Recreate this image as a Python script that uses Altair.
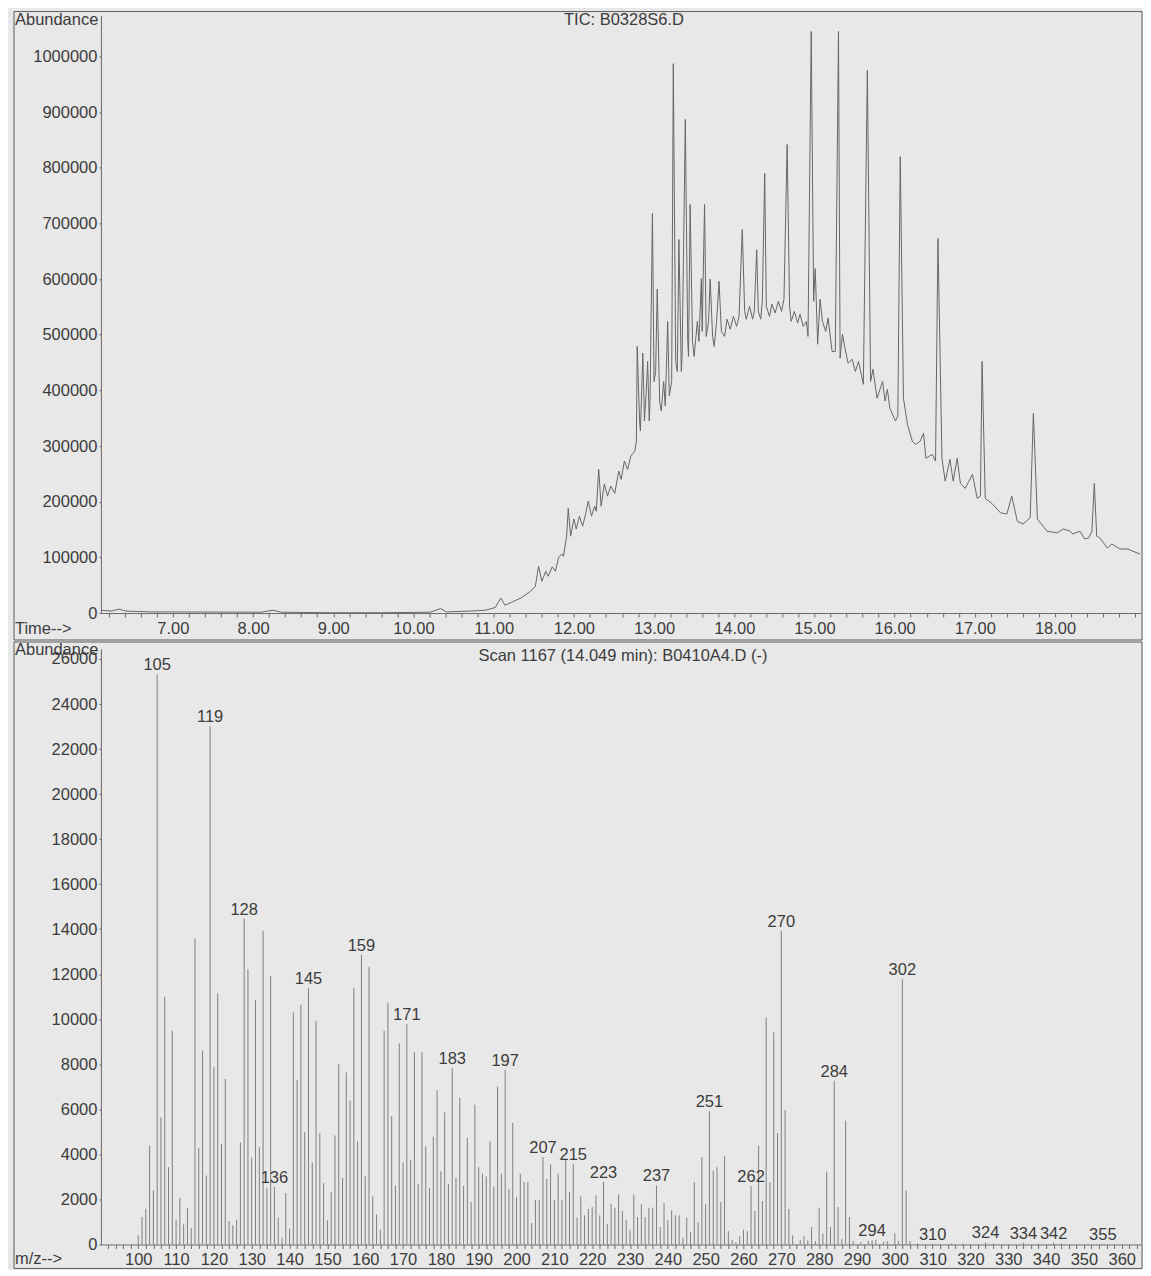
import altair as alt
import pandas as pd

# ---------------- data ----------------
# TIC trace: (retention time [min], abundance)
tic_points = [
    (6.10, 5000), (6.23, 3500), (6.33, 7000), (6.41, 3500), (6.73, 2000), (7.35, 1800),
    (8.10, 1500), (8.25, 5000), (8.35, 1500), (8.97, 500), (9.59, 500), (10.21, 1500),
    (10.34, 8000), (10.41, 2000), (10.71, 3500), (10.90, 5000), (11.02, 10000), (11.09, 27000),
    (11.14, 14000), (11.25, 21000), (11.34, 27000), (11.46, 39000), (11.52, 48000), (11.56, 84000),
    (11.60, 57000), (11.65, 75000), (11.68, 66000), (11.73, 83000), (11.77, 75000), (11.81, 100000),
    (11.85, 106000), (11.87, 102000), (11.91, 138000), (11.93, 188000), (11.96, 138000), (12.00, 169000),
    (12.03, 151000), (12.07, 174000), (12.11, 156000), (12.15, 180000), (12.18, 201000), (12.22, 174000),
    (12.26, 192000), (12.28, 183000), (12.31, 258000), (12.34, 192000), (12.38, 232000), (12.42, 210000),
    (12.46, 228000), (12.51, 215000), (12.56, 255000), (12.59, 240000), (12.63, 273000), (12.67, 258000),
    (12.71, 282000), (12.76, 291000), (12.78, 309000), (12.79, 479000), (12.82, 345000), (12.83, 327000),
    (12.86, 467000), (12.88, 345000), (12.90, 390000), (12.92, 452000), (12.94, 345000), (12.95, 380000),
    (12.98, 718000), (13.00, 416000), (13.02, 434000), (13.04, 582000), (13.07, 380000), (13.09, 363000),
    (13.12, 416000), (13.14, 372000), (13.17, 524000), (13.19, 390000), (13.22, 416000), (13.24, 987000),
    (13.27, 452000), (13.29, 434000), (13.31, 671000), (13.34, 434000), (13.35, 461000), (13.39, 887000),
    (13.42, 488000), (13.43, 461000), (13.45, 734000), (13.48, 488000), (13.50, 461000), (13.54, 524000),
    (13.56, 488000), (13.59, 601000), (13.60, 506000), (13.63, 734000), (13.65, 497000), (13.68, 524000),
    (13.70, 600000), (13.73, 497000), (13.75, 479000), (13.78, 524000), (13.81, 596000), (13.84, 506000),
    (13.88, 497000), (13.91, 528000), (13.95, 510000), (13.99, 533000), (14.03, 515000), (14.06, 533000),
    (14.10, 689000), (14.13, 542000), (14.15, 528000), (14.19, 551000), (14.23, 528000), (14.25, 542000),
    (14.28, 653000), (14.30, 542000), (14.33, 528000), (14.35, 560000), (14.38, 790000), (14.40, 551000),
    (14.44, 533000), (14.47, 555000), (14.51, 539000), (14.55, 560000), (14.59, 542000), (14.62, 564000),
    (14.66, 842000), (14.69, 551000), (14.71, 524000), (14.75, 542000), (14.79, 521000), (14.82, 537000),
    (14.86, 515000), (14.90, 524000), (14.92, 497000), (14.96, 1045000), (14.99, 560000), (15.01, 619000),
    (15.04, 483000), (15.07, 564000), (15.10, 524000), (15.14, 506000), (15.17, 530000), (15.22, 470000),
    (15.26, 470000), (15.30, 1045000), (15.32, 458000), (15.35, 501000), (15.38, 476000), (15.42, 449000),
    (15.47, 456000), (15.51, 434000), (15.55, 452000), (15.61, 411000), (15.66, 975000), (15.70, 416000),
    (15.73, 438000), (15.78, 386000), (15.85, 416000), (15.88, 381000), (15.91, 402000), (15.94, 368000),
    (16.01, 345000), (16.04, 354000), (16.07, 820000), (16.11, 386000), (16.16, 339000), (16.22, 309000),
    (16.26, 303000), (16.32, 309000), (16.36, 323000), (16.39, 278000), (16.47, 285000), (16.51, 273000),
    (16.54, 673000), (16.59, 278000), (16.63, 237000), (16.69, 276000), (16.73, 237000), (16.78, 278000),
    (16.82, 233000), (16.88, 224000), (16.97, 249000), (17.03, 206000), (17.07, 210000), (17.09, 452000),
    (17.13, 206000), (17.22, 196000), (17.32, 180000), (17.40, 178000), (17.46, 210000), (17.53, 165000),
    (17.60, 160000), (17.69, 171000), (17.73, 359000), (17.78, 169000), (17.90, 147000), (18.03, 144000),
    (18.10, 151000), (18.19, 147000), (18.22, 142000), (18.31, 147000), (18.37, 133000), (18.42, 135000),
    (18.46, 147000), (18.49, 233000), (18.52, 138000), (18.56, 135000), (18.65, 117000), (18.71, 124000),
    (18.81, 115000), (18.91, 115000), (18.97, 111000), (19.06, 106000),
]

# Mass spectrum: (m/z, abundance)
ms_points = [
    (100, 400), (101, 1220), (102, 1590), (103, 4390), (104, 2400), (105, 25320), (106, 5650),
    (107, 11000), (108, 3430), (109, 9490), (110, 1100), (111, 2070), (112, 890), (113, 1610),
    (114, 740), (115, 13590), (116, 4290), (117, 8600), (118, 3060), (119, 23020), (120, 7870),
    (121, 11150), (122, 4460), (123, 7350), (124, 1040), (125, 850), (126, 1100), (127, 4530),
    (128, 14460), (129, 12230), (130, 3850), (131, 10850), (132, 4320), (133, 13930), (134, 2500),
    (135, 11930), (136, 2550), (137, 1190), (138, 300), (139, 2280), (140, 700), (141, 10300),
    (142, 7300), (143, 10650), (144, 4980), (145, 11370), (146, 3650), (147, 9940), (148, 4950),
    (149, 2720), (150, 1070), (151, 2320), (152, 4840), (153, 8010), (154, 2950), (155, 7640),
    (156, 6390), (157, 11380), (158, 4580), (159, 12860), (160, 3030), (161, 12330), (162, 2130),
    (163, 1330), (164, 650), (165, 9490), (166, 10750), (167, 5710), (168, 2620), (169, 8930),
    (170, 3650), (171, 9790), (172, 3760), (173, 8530), (174, 2690), (175, 8530), (176, 4360),
    (177, 2520), (178, 4790), (179, 6860), (180, 3250), (181, 5870), (182, 2690), (183, 7840),
    (184, 2960), (185, 6510), (186, 2600), (187, 4730), (188, 1880), (189, 6210), (190, 3430),
    (191, 3140), (192, 3020), (193, 4580), (194, 2580), (195, 7010), (196, 3140), (197, 7750),
    (198, 2470), (199, 5400), (200, 2100), (201, 3140), (202, 2770), (203, 2770), (204, 950),
    (205, 1980), (206, 1980), (207, 3880), (208, 2910), (209, 3550), (210, 1980), (211, 3140),
    (212, 1980), (213, 3760), (214, 2320), (215, 3580), (216, 1190), (217, 2130), (218, 1290),
    (219, 1580), (220, 1660), (221, 2180), (222, 1290), (223, 2770), (224, 920), (225, 1810),
    (226, 1630), (227, 2220), (228, 1480), (229, 1100), (230, 650), (231, 2220), (232, 1220),
    (233, 1780), (234, 1220), (235, 1630), (236, 1630), (237, 2620), (238, 770), (239, 1840),
    (240, 1070), (241, 1510), (242, 1290), (243, 1290), (244, 300), (245, 1190), (246, 550),
    (247, 2770), (248, 990), (249, 3880), (250, 1780), (251, 5920), (252, 3280), (253, 3430),
    (254, 1880), (255, 3920), (256, 590), (257, 200), (258, 100), (259, 360), (260, 650),
    (261, 590), (262, 2590), (263, 1480), (264, 4390), (265, 1930), (266, 10080), (267, 2770),
    (268, 9420), (269, 4950), (270, 13930), (271, 5970), (272, 1580), (273, 400), (275, 200),
    (276, 360), (277, 180), (278, 770), (279, 150), (280, 1630), (281, 480), (282, 3240),
    (283, 770), (284, 7270), (285, 1660), (286, 250), (287, 5500), (288, 1220), (289, 150),
    (291, 100), (293, 150), (294, 180), (295, 200), (297, 120), (298, 150), (300, 500),
    (301, 150), (302, 11780), (303, 2400), (304, 150), (306, 60), (310, 30), (315, 50),
    (318, 40), (324, 100), (326, 50), (334, 80), (338, 40), (342, 80), (344, 50), (355, 15),
]

label_mz = [105, 119, 128, 136, 145, 159, 171, 183, 197, 207, 215, 223, 237, 251,
            262, 270, 284, 294, 302, 310, 324, 334, 342, 355]

tic_y_ticks = [0, 100000, 200000, 300000, 400000, 500000, 600000, 700000, 800000, 900000, 1000000]
ms_y_ticks = [0, 2000, 4000, 6000, 8000, 10000, 12000, 14000, 16000, 18000, 20000, 22000, 24000, 26000]
tic_x_ticks = [round(6.2 + 0.2 * i, 1) for i in range(65)]
ms_x_ticks = list(range(92, 366, 2))

tic_title = "TIC: B0328S6.D"
ms_title = "Scan 1167 (14.049 min): B0410A4.D (-)"

# ---------------- styling ----------------
W = 1041
H1 = 598
H2 = 596
FS = 16.5
FONT = "Liberation Sans"
BG = "#e8e8e8"
TXT = "#3c3c3c"
AXC = "#6a6a6a"

tic_df = pd.DataFrame(tic_points, columns=["t", "a"])
ms_df = pd.DataFrame(ms_points, columns=["mz", "a"])
lab_df = ms_df[ms_df["mz"].isin(label_mz)].copy()
lab_df["lbl"] = lab_df["mz"].astype(int).astype(str)


def axis_common(**kw):
    return alt.Axis(
        title=None, grid=False, domainColor=AXC, tickColor=AXC, labelColor=TXT,
        labelFont=FONT, labelFontSize=FS, labelOverlap=False, labelFlush=False, **kw
    )


def text_layer(s, x, y, align="left", baseline="top"):
    return alt.Chart(pd.DataFrame({"s": [s]})).mark_text(
        align=align, baseline=baseline, font=FONT, fontSize=FS, color=TXT
    ).encode(x=alt.value(x), y=alt.value(y), text="s:N")


def frame_layer(y0, y1):
    return alt.Chart(pd.DataFrame({"s": [0]})).mark_rect(
        fill=BG, fillOpacity=0, stroke="#5a5a5a", strokeWidth=1
    ).encode(x=alt.value(-87), x2=alt.value(W + 1), y=alt.value(y0), y2=alt.value(y1))


# ---------------- top: TIC ----------------
x_tic = alt.X(
    "t:Q",
    scale=alt.Scale(domain=[6.103, 19.072], nice=False, zero=False),
    axis=axis_common(
        values=tic_x_ticks, tickSize=4, labelPadding=3,
        labelExpr="(abs(datum.value - round(datum.value)) < 0.01 && datum.value >= 7 && datum.value <= 18) ? format(datum.value, '.2f') : ''",
    ),
)
y_tic = alt.Y(
    "a:Q",
    scale=alt.Scale(domain=[0, 1073600], nice=False),
    axis=axis_common(values=tic_y_ticks, format="d", tickSize=2, labelPadding=2,
                     minExtent=87, maxExtent=87),
)

tic_line = alt.Chart(tic_df).mark_line(color="#666666", strokeWidth=1, clip=True).encode(
    x=x_tic, y=y_tic
)

top = alt.layer(
    frame_layer(-4, H1 + 27),
    tic_line,
    text_layer("Abundance", -86, -4),
    text_layer(tic_title, W / 2 + 3, -4, align="center"),
    text_layer("Time-->", -86, H1 + 8),
).properties(width=W, height=H1)

# ---------------- bottom: mass spectrum ----------------
x_ms = alt.X(
    "mz:Q",
    scale=alt.Scale(domain=[90.13, 365.09], nice=False, zero=False),
    axis=axis_common(
        values=ms_x_ticks, tickSize=4, labelPadding=3,
        labelExpr="(datum.value % 10 == 0 && datum.value >= 100 && datum.value <= 360) ? format(datum.value, 'd') : ''",
    ),
)
y_ms = alt.Y(
    "a:Q",
    scale=alt.Scale(domain=[0, 26444], nice=False),
    axis=axis_common(values=ms_y_ticks, format="d", tickSize=2, labelPadding=2,
                     minExtent=87, maxExtent=87),
)

sticks = alt.Chart(ms_df).mark_rule(color="#7e7e7e", strokeWidth=1).encode(
    x=x_ms, y=y_ms, y2=alt.datum(0)
)
peak_labels = alt.Chart(lab_df).mark_text(
    baseline="alphabetic", align="center", dy=-4, font=FONT, fontSize=FS, color=TXT
).encode(x=x_ms, y=y_ms, text="lbl:N")

bottom = alt.layer(
    frame_layer(-7, H2 + 24),
    sticks,
    peak_labels,
    text_layer("Abundance", -86, -7),
    text_layer(ms_title, W / 2 + 2, -1, align="center"),
    text_layer("m/z-->", -86, H2 + 7),
).properties(width=W, height=H2)

chart = alt.vconcat(top, bottom, spacing=0).properties(
    padding={"left": 5, "top": 2, "right": 0, "bottom": 0},
    background=BG,
).configure_view(strokeWidth=0)

chart.save("out.html", embed_options={"renderer": "svg", "actions": False})
